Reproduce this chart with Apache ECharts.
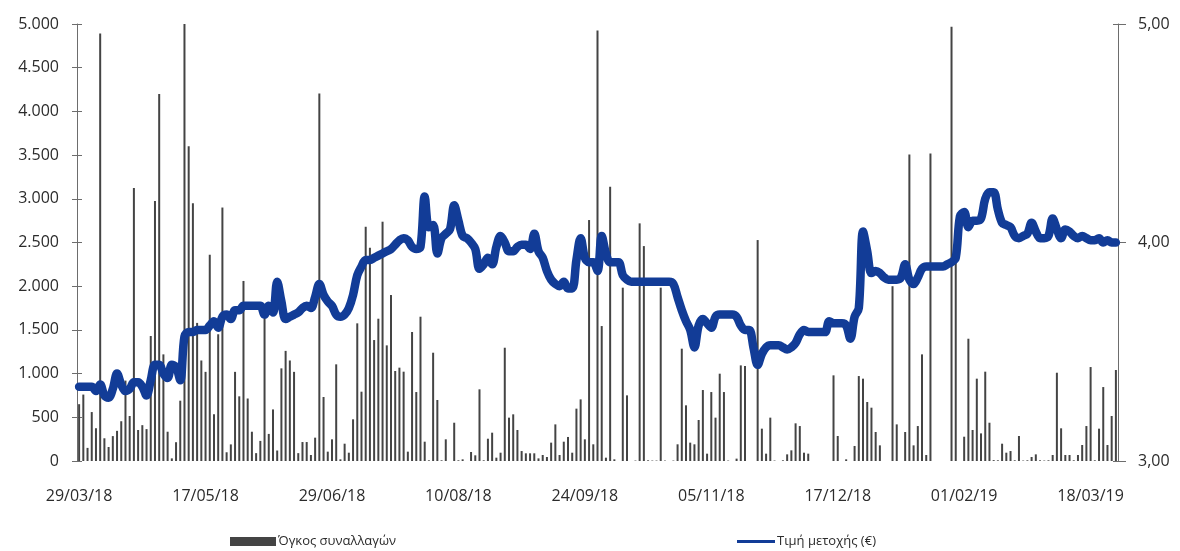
<!DOCTYPE html>
<html>
<head>
<meta charset="utf-8">
<script src="https://cdn.jsdelivr.net/npm/echarts@6/dist/echarts.min.js"></script>
<style>
html,body{margin:0;padding:0;background:#fff;}
#chart{width:1180px;height:551px;}
</style>
</head>
<body>
<div id="chart"></div>
<script>
// Tick labels of the date axis (one every 30 trading sessions)
const dateTicks = ['29/03/18','17/05/18','29/06/18','10/08/18','24/09/18','05/11/18','17/12/18','01/02/19','18/03/19'];
const tickEvery = 30;

// Daily trading volume (left axis)
const volume1 = [650,760,150,560,375,4890,260,160,285,345,455,920,515,3125,355,410,365,1430,2975,4200,1220,335,30,215,690,5000,3600,2950,1580,1150,1020,2360,535,1450,2900,100,190,1020,740,2060,715,335,90,230,1650,310,590,120,1060,1260,1150,1020,90];
const volume2 = [217,217,69,267,4206,732,107,248,1106,19,198,95,477,1575,793,2680,2440,1384,1628,2738,1323,1899,1030,1068,1022,107,1476,789,1651,221,8,1239,698,8,248,0,438,8,19,0,103,65,820,8,255,324,38,95,1296,496,534,355,114,88,88,88,30,69,46,210,419,69,221,275,95,599,705];
const volume3 = [248,2757,191,4926,1544,38,3138,19,0,1983,751,0,5,2719,2459,8,5,5,1983,5,0,5,191,1285,637,210,191,469,812,84,789,496,999,789,5,0,27,1094,1087,0,0,2528,370,84,496,5,0,8,76,122,431,400,95,84,0,0,0,0,0,980,286,0,19,0,172,972];
const volume4 = [942,675,610,332,179,0,0,2000,419,0,332,3508,179,400,1220,69,3519,0,0,0,0,4968,2467,0,278,1399,355,942,316,1022,438,10,8,198,95,114,8,286,5,8,46,76,8,5,8,69,1010,374,69,69,8,69,183,400,1075,8,370,846,183,515,1041];

// Share price in euro (right axis)
const price1 = [3.34,3.34,3.34,3.34,3.32,3.35,3.30,3.29,3.33,3.40,3.35,3.32,3.33,3.36,3.36,3.34,3.30,3.37,3.44,3.44,3.40,3.38,3.44,3.43,3.37,3.57,3.59,3.59,3.60,3.60,3.60,3.62,3.64,3.61,3.66,3.67,3.65,3.69,3.69,3.71,3.71,3.71,3.71,3.71,3.67,3.71,3.68,3.82,3.73,3.65,3.66,3.67,3.68];
const price2 = [3.70,3.71,3.70,3.75,3.81,3.76,3.73,3.71,3.67,3.66,3.67,3.70,3.76,3.85,3.89,3.92,3.92,3.93,3.94,3.95,3.96,3.97,3.99,4.01,4.02,4.01,3.98,3.97,3.98,4.21,4.07,4.08,3.95,4.02,4.04,4.06,4.17,4.10,4.03,4.02,4.00,3.97,3.88,3.90,3.93,3.90,3.98,4.03,4.00,3.96,3.96,3.98,3.99,3.99,3.97,4.04,3.96,3.93,3.87,3.83,3.81,3.80,3.82,3.79,3.79,3.92,4.02];
const price3 = [3.93,3.91,3.91,3.87,4.03,3.95,3.91,3.91,3.91,3.85,3.83,3.82,3.82,3.82,3.82,3.82,3.82,3.82,3.82,3.82,3.82,3.81,3.75,3.69,3.64,3.60,3.52,3.62,3.65,3.63,3.61,3.66,3.67,3.67,3.67,3.67,3.66,3.62,3.60,3.60,3.52,3.44,3.49,3.52,3.53,3.53,3.53,3.52,3.51,3.52,3.54,3.58,3.60,3.59,3.59,3.59,3.59,3.59,3.64,3.63,3.63,3.63,3.62,3.56,3.66,3.70];
const price4 = [4.05,3.96,3.86,3.87,3.86,3.84,3.83,3.83,3.83,3.84,3.90,3.83,3.81,3.84,3.88,3.89,3.89,3.89,3.89,3.89,3.90,3.91,3.93,4.12,4.14,4.07,4.10,4.10,4.11,4.20,4.23,4.23,4.15,4.09,4.08,4.07,4.03,4.02,4.03,4.04,4.09,4.05,4.02,4.02,4.03,4.11,4.06,4.02,4.06,4.05,4.03,4.02,4.03,4.02,4.01,4.01,4.02,4.00,4.01,4.00,4.00];

const volumeName = 'Όγκος συναλλαγών';
const priceName = 'Τιμή μετοχής (€)';

const volume = volume1.concat(volume2, volume3, volume4);
const price = price1.concat(price2, price3, price4);
const categories = volume.map((_, i) => i);

const FONT = '"Open Sans", "Noto Sans", sans-serif';
const TXT = '#2b2b2b';
const AX = '#6d6d6d';

const chart = echarts.init(document.getElementById('chart'), null, {renderer: 'canvas'});
chart.setOption({
  animation: false,
  backgroundColor: '#ffffff',
  grid: {left: 77, right: 62, top: 24, bottom: 90, containLabel: false},
  legend: [
    {
      data: [{name: volumeName, icon: 'rect'}],
      left: 230, top: 535, padding: 0,
      itemWidth: 46, itemHeight: 9, itemGap: 3,
      textStyle: {fontFamily: FONT, fontSize: 13, color: TXT, padding: [0, 0, 0, -3]}
    },
    {
      data: [{name: priceName, icon: 'rect'}],
      left: 737, top: 535, padding: 0,
      itemWidth: 38, itemHeight: 3, itemGap: 3,
      textStyle: {fontFamily: FONT, fontSize: 13, color: TXT, padding: [0, 0, 0, -3]}
    }
  ],
  xAxis: {
    type: 'category',
    data: categories,
    boundaryGap: true,
    axisLine: {show: false},
    axisTick: {show: false},
    splitLine: {show: false},
    axisLabel: {
      interval: (i) => i % tickEvery === 0,
      formatter: (v, i) => dateTicks[Math.round(i / tickEvery)] || '',
      margin: 27,
      fontFamily: FONT, fontSize: 16, color: TXT
    }
  },
  yAxis: [
    {
      type: 'value', position: 'left',
      min: 0, max: 5000, interval: 500,
      axisLine: {show: true, lineStyle: {color: AX, width: 1}},
      axisTick: {show: true, length: 5, lineStyle: {color: AX}},
      splitLine: {show: false},
      axisLabel: {
        margin: 18, fontFamily: FONT, fontSize: 16, color: TXT,
        formatter: (v) => String(v).replace(/\B(?=(\d{3})+(?!\d))/g, '.')
      }
    },
    {
      type: 'value', position: 'right',
      min: 3, max: 5, interval: 1,
      axisLine: {show: true, lineStyle: {color: AX, width: 1}},
      axisTick: {show: true, length: 8, lineStyle: {color: AX}},
      splitLine: {show: false},
      axisLabel: {
        margin: 20, fontFamily: FONT, fontSize: 16, color: TXT,
        formatter: (v) => v.toFixed(2).replace('.', ',')
      }
    },
    {
      // inner half of the left tick marks
      type: 'value', position: 'left',
      min: 0, max: 5000, interval: 500,
      axisLine: {show: false},
      axisTick: {show: true, inside: true, length: 5, lineStyle: {color: AX}},
      axisLabel: {show: false},
      splitLine: {show: false}
    },
    {
      // inner half of the right tick marks
      type: 'value', position: 'right',
      min: 3, max: 5, interval: 1,
      axisLine: {show: false},
      axisTick: {show: true, inside: true, length: 5, lineStyle: {color: AX}},
      axisLabel: {show: false},
      splitLine: {show: false}
    }
  ],
  series: [
    {
      name: volumeName,
      type: 'bar',
      yAxisIndex: 0,
      data: volume,
      barWidth: 2,
      itemStyle: {color: '#444444'},
      z: 1
    },
    {
      name: priceName,
      type: 'line',
      yAxisIndex: 1,
      data: price,
      smooth: 0.35,
      showSymbol: false,
      symbol: 'none',
      lineStyle: {color: '#123c97', width: 8.5, cap: 'round', join: 'round'},
      itemStyle: {color: '#123c97'},
      z: 3
    }
  ]
});
</script>
</body>
</html>
